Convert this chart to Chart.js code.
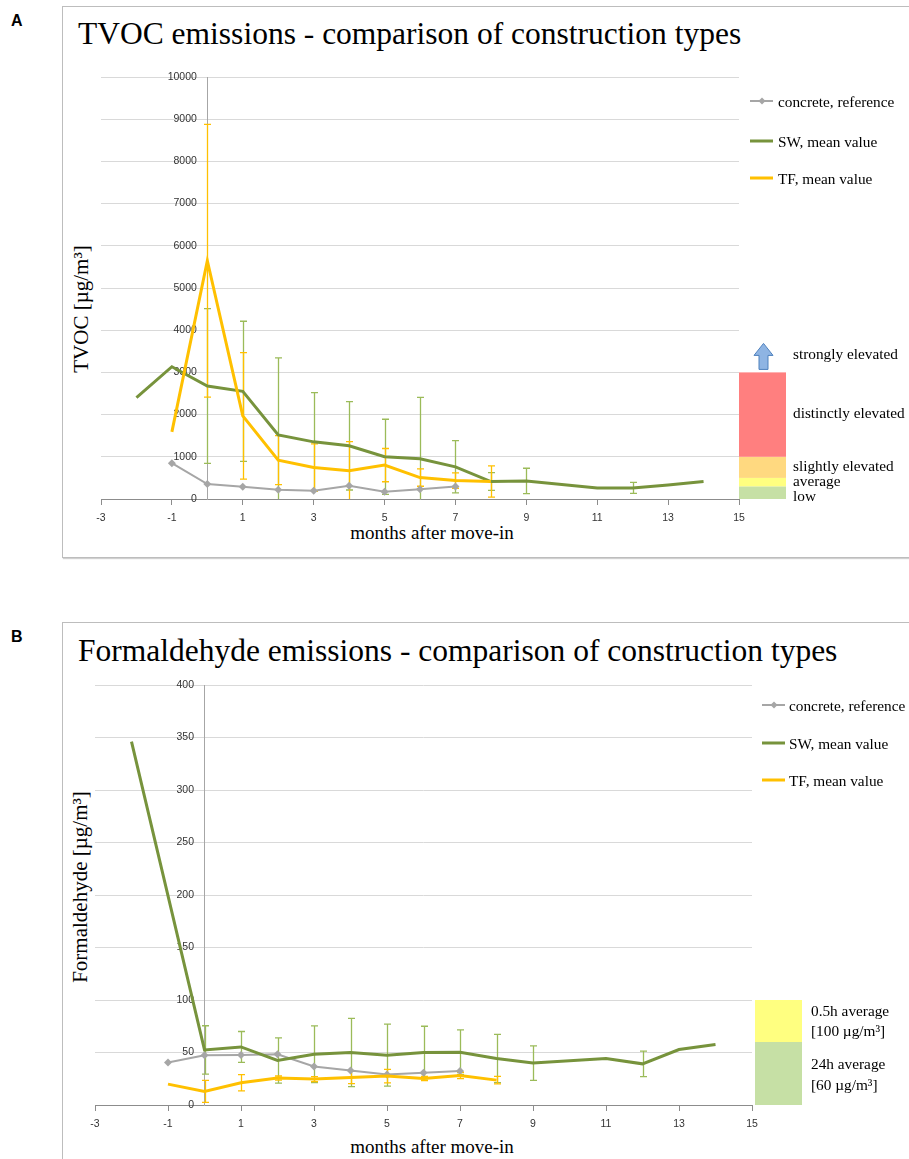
<!DOCTYPE html>
<html>
<head>
<meta charset="utf-8">
<script src="https://cdn.jsdelivr.net/npm/chart.js@4.4.1/dist/chart.umd.min.js"></script>
<style>
  html,body{margin:0;padding:0;background:#fff;}
  body{width:909px;height:1159px;position:relative;overflow:hidden;font-family:"Liberation Serif","Times New Roman",serif;color:#000;}
  .abs{position:absolute;white-space:nowrap;}
  .frame{position:absolute;border:1px solid #bdbdbd;box-shadow:1px 1px 1px #d0d0d0;}
  .letter{font-family:"Liberation Sans",Arial,sans-serif;font-weight:bold;font-size:16px;}
  .title{font-size:31.5px;line-height:31px;}
  .ytitle{font-size:21px;line-height:21px;transform:translate(-50%,-50%) rotate(-90deg);}
  .xtitle{font-size:19px;line-height:19px;transform:translate(-50%,-50%);}
  .lab{font-size:15.3px;line-height:15px;transform:translateY(-50%);}
  .legline{position:absolute;height:3px;transform:translateY(-50%);}
  canvas{position:absolute;}
</style>
</head>
<body>
<script>
// ---------------- DATA ----------------
// Panel A: TVOC [µg/m³]
const tvocConcreteMonths = [-1, 0, 1, 2, 3, 4, 5, 6, 7];
const tvocConcrete       = [850, 354, 291, 220, 197, 315, 173, 232, 294];

const tvocSWMonths = [-2, -1, 0, 1, 2, 3, 4, 5, 6, 7, 8, 9, 11, 12, 13, 14];
const tvocSW       = [2400, 3134, 2677, 2551, 1520, 1354, 1260, 1000, 955, 762, 413, 429, 262, 262, 333, 413];
const tvocSWErr    = [null, null, 1835, 1661, 1826, 1166, 1047, 890, 1453, 619, 210, 300, null, 130, null, null];

const tvocTFMonths = [-1, 0, 1, 2, 3, 4, 5, 6, 7, 8];
const tvocTF       = [1590, 5646, 1969, 921, 748, 669, 803, 508, 437, 413];
const tvocTFErr    = [null, 3230, 1500, 580, 560, 690, 394, 206, 182, 370];

const tvocLevels      = [0, 300, 500, 1000, 3000];
const tvocLevelColors = ["#c6e0a5", "#ffff80", "#ffd980", "#ff7f7f"];
const tvocLevelLabels = ["low", "average", "slightly elevated", "distinctly elevated", "strongly elevated"];

// Panel B: Formaldehyde [µg/m³]
const hchoConcreteMonths = [-1, 0, 1, 2, 3, 4, 5, 6, 7];
const hchoConcrete       = [40.5, 47.4, 47.7, 48.4, 36.7, 32.8, 29.1, 30.7, 32.3];

const hchoSWMonths = [-2, 0, 1, 2, 3, 4, 5, 6, 7, 8, 9, 11, 12, 13, 14];
const hchoSW       = [346, 52.5, 55.3, 42.4, 48.4, 50.0, 47.5, 50.0, 50.3, 44.3, 39.9, 44.3, 39.2, 52.8, 57.6];
const hchoSWErr    = [null, 23, 14.7, 21.5, 27, 32.5, 29.5, 25, 21.2, 23, 16.5, null, 12.1, null, null];

const hchoTFMonths = [-1, 0, 1, 2, 3, 4, 5, 6, 7, 8];
const hchoTF       = [19.9, 13.0, 21.2, 25.6, 24.7, 26.3, 27.5, 25.3, 28.2, 23.7];
const hchoTFErr    = [null, 10.5, 7.8, 2.0, 2.4, 6.0, 6.5, 2.0, 3.0, 3.6];

const hchoLevels      = [0, 60, 100];
const hchoLevelColors = ["#c6e0a5", "#ffff80"];

const monthTicks = {min: -3, max: 15, step: 2};
const tvocTicks  = {min: 0, max: 10000, step: 1000};
const hchoTicks  = {min: 0, max: 400, step: 50};

const seriesNames = ["concrete, reference", "SW, mean value", "TF, mean value"];
</script>

<div class="abs letter" style="left:11px;top:12px;">A</div>
<div class="frame" style="left:62px;top:6px;width:900px;height:550px;"></div>
<div class="abs title" style="left:78px;top:18px;">TVOC emissions - comparison of construction types</div>
<div class="abs ytitle" style="left:81px;top:309px;">TVOC [µg/m³]</div>
<div class="abs xtitle" style="left:432px;top:532px;">months after move-in</div>

<div class="abs letter" style="left:11px;top:628px;">B</div>
<div class="frame" style="left:62px;top:622px;width:900px;height:600px;"></div>
<div class="abs title" style="left:78px;top:635px;">Formaldehyde emissions - comparison of construction types</div>
<div class="abs ytitle" style="left:80px;top:887px;">Formaldehyde [µg/m³]</div>
<div class="abs xtitle" style="left:432px;top:1146px;">months after move-in</div>

<canvas id="cA" width="847" height="551" style="left:62px;top:6px;"></canvas>
<canvas id="cB" width="847" height="536" style="left:62px;top:623px;"></canvas>

<!-- legends -->
<div id="legA"></div>
<div id="legB"></div>

<!-- level labels -->
<div class="abs lab" style="left:793px;top:353px;">strongly elevated</div>
<div class="abs lab" style="left:793px;top:412px;">distinctly elevated</div>
<div class="abs lab" style="left:793px;top:465px;">slightly elevated</div>
<div class="abs lab" style="left:793px;top:480px;">average</div>
<div class="abs lab" style="left:793px;top:495px;">low</div>

<div class="abs lab" style="left:811px;top:1010px;">0.5h average</div>
<div class="abs lab" style="left:811px;top:1030px;">[100 µg/m³]</div>
<div class="abs lab" style="left:811px;top:1063px;">24h average</div>
<div class="abs lab" style="left:811px;top:1084px;">[60 µg/m³]</div>

<script>
const GREY = "#a6a6a6", GREEN = "#77933c", GREEN_ERR = "#9bbb59", YELLOW = "#ffc000";

function pts(xs, ys){ return xs.map((x,i)=>({x:x, y:ys[i]})); }

// Legends (HTML)
function buildLegend(id, x0, lineW, textX, ys){
  const el = document.getElementById(id);
  const cols = [GREY, GREEN, YELLOW];
  seriesNames.forEach((n,i)=>{
    const l = document.createElement('div');
    l.className='legline';
    l.style.left = x0+'px'; l.style.top = ys[i]+'px'; l.style.width = lineW+'px';
    l.style.background = cols[i];
    l.style.height = (i===0?2:3)+'px';
    el.appendChild(l);
    if(i===0){
      const d = document.createElement('div');
      d.style.cssText = 'position:absolute;width:5px;height:5px;background:'+GREY+';transform:translate(-50%,-50%) rotate(45deg);left:'+(x0+lineW/2)+'px;top:'+ys[i]+'px;';
      el.appendChild(d);
    }
    const t = document.createElement('div');
    t.className='abs lab';
    t.style.left = textX+'px'; t.style.top = ys[i]+'px';
    t.textContent = n;
    el.appendChild(t);
  });
}
buildLegend('legA', 750, 23, 778, [101, 141, 178]);
buildLegend('legB', 762, 23, 789, [705, 743, 780]);

const errorBarPlugin = {
  id: 'errbars',
  beforeDatasetsDraw(chart){
    const {ctx, chartArea, scales:{x, y}} = chart;
    ctx.save();
    ctx.beginPath();
    ctx.rect(chartArea.left, chartArea.top - 2, chartArea.width, chartArea.height + 2);
    ctx.clip();
    chart.data.datasets.forEach(ds=>{
      if(!ds.err) return;
      ctx.strokeStyle = ds.errColor;
      ctx.lineWidth = 1.3;
      ds.data.forEach((p,i)=>{
        const e = ds.err[i];
        if(e == null) return;
        const px = Math.round(x.getPixelForValue(p.x)) + 0.5;
        const top = y.getPixelForValue(p.y + e);
        const loV = p.y - e;
        const bot = y.getPixelForValue(Math.max(loV, y.min));
        ctx.beginPath();
        ctx.moveTo(px, top); ctx.lineTo(px, bot);
        ctx.moveTo(px-3.5, top); ctx.lineTo(px+3.5, top);
        if(loV >= y.min){ ctx.moveTo(px-3.5, bot); ctx.lineTo(px+3.5, bot); }
        ctx.stroke();
      });
    });
    ctx.restore();
  }
};

const bandsPlugin = {
  id: 'bands',
  afterDraw(chart, args, opts){
    if(!opts.levels) return;
    const {ctx, chartArea, scales:{y}} = chart;
    const x0 = chartArea.right + opts.offset;
    ctx.save();
    for(let i=0;i<opts.colors.length;i++){
      const t = y.getPixelForValue(opts.levels[i+1]);
      const b = y.getPixelForValue(opts.levels[i]);
      ctx.fillStyle = opts.colors[i];
      ctx.fillRect(x0, t, opts.width, b - t);
    }
    if(opts.arrow){
      const topY = y.getPixelForValue(opts.levels[opts.levels.length-1]);
      const cx = x0 + opts.width/2 + 1;
      const by = topY - 3, ty = topY - 29, hy = ty + 12;
      ctx.beginPath();
      ctx.moveTo(cx-4.5, by); ctx.lineTo(cx-4.5, hy); ctx.lineTo(cx-9.5, hy);
      ctx.lineTo(cx, ty); ctx.lineTo(cx+9.5, hy); ctx.lineTo(cx+4.5, hy);
      ctx.lineTo(cx+4.5, by); ctx.closePath();
      ctx.fillStyle = '#8eb4e3'; ctx.fill();
      ctx.strokeStyle = '#4f81bd'; ctx.lineWidth = 1; ctx.stroke();
    }
    ctx.restore();
  }
};

// label gap to the left of the y axis (axis positioned at month 0 ignores ticks.padding)
const Y_GAP = '\u2002\u2002';

function makeChart(id, padding, sets, yT, bands){
  const [conX, conY, swX, swY, swE, tfX, tfY, tfE] = sets;
  return new Chart(document.getElementById(id), {
    type: 'line',
    data: {
      datasets: [
        {label: seriesNames[0], data: pts(conX, conY), borderColor: GREY, backgroundColor: GREY,
         borderWidth: 2, pointStyle: 'rectRot', pointRadius: 4, pointBorderWidth: 0, tension: 0, order: 3},
        {label: seriesNames[1], data: pts(swX, swY), err: swE, errColor: GREEN_ERR, borderColor: GREEN,
         borderWidth: 3, pointRadius: 0, tension: 0, order: 2},
        {label: seriesNames[2], data: pts(tfX, tfY), err: tfE, errColor: YELLOW, borderColor: YELLOW,
         borderWidth: 3, pointRadius: 0, tension: 0, order: 1}
      ]
    },
    options: {
      responsive: false, animation: false, devicePixelRatio: 1,
      layout: {padding: padding},
      plugins: {legend: {display: false}, tooltip: {enabled: false}, title: {display: false}, bands: bands},
      scales: {
        x: {
          type: 'linear', position: {y: yT.min}, min: monthTicks.min, max: monthTicks.max,
          ticks: {stepSize: monthTicks.step, color: '#333', font: {family: 'Liberation Sans', size: 10.5}, padding: 8,
                  callback: v => String(v)},
          grid: {drawOnChartArea: false, drawTicks: true, tickLength: 5, tickColor: '#8c8c8c'},
          border: {color: '#8c8c8c', width: 1}
        },
        y: {
          type: 'linear', position: {x: 0}, min: yT.min, max: yT.max,
          ticks: {stepSize: yT.step, color: '#333', font: {family: 'Liberation Sans', size: 10.5}, padding: 11,
                  callback: v => String(v) + Y_GAP},
          grid: {color: '#d9d9d9', lineWidth: 1, drawTicks: true, tickLength: 4, tickColor: '#d9d9d9'},
          border: {color: '#a6a6a6', width: 1}
        }
      }
    },
    plugins: [errorBarPlugin, bandsPlugin]
  });
}

makeChart('cA', {left: 39, right: 170, top: 71, bottom: 58},
  [tvocConcreteMonths, tvocConcrete, tvocSWMonths, tvocSW, tvocSWErr, tvocTFMonths, tvocTF, tvocTFErr],
  tvocTicks, {levels: tvocLevels, colors: tvocLevelColors, offset: 0, width: 47, arrow: true});

makeChart('cB', {left: 33, right: 157, top: 62, bottom: 54},
  [hchoConcreteMonths, hchoConcrete, hchoSWMonths, hchoSW, hchoSWErr, hchoTFMonths, hchoTF, hchoTFErr],
  hchoTicks, {levels: hchoLevels, colors: hchoLevelColors, offset: 3, width: 47, arrow: false});
</script>
</body>
</html>
